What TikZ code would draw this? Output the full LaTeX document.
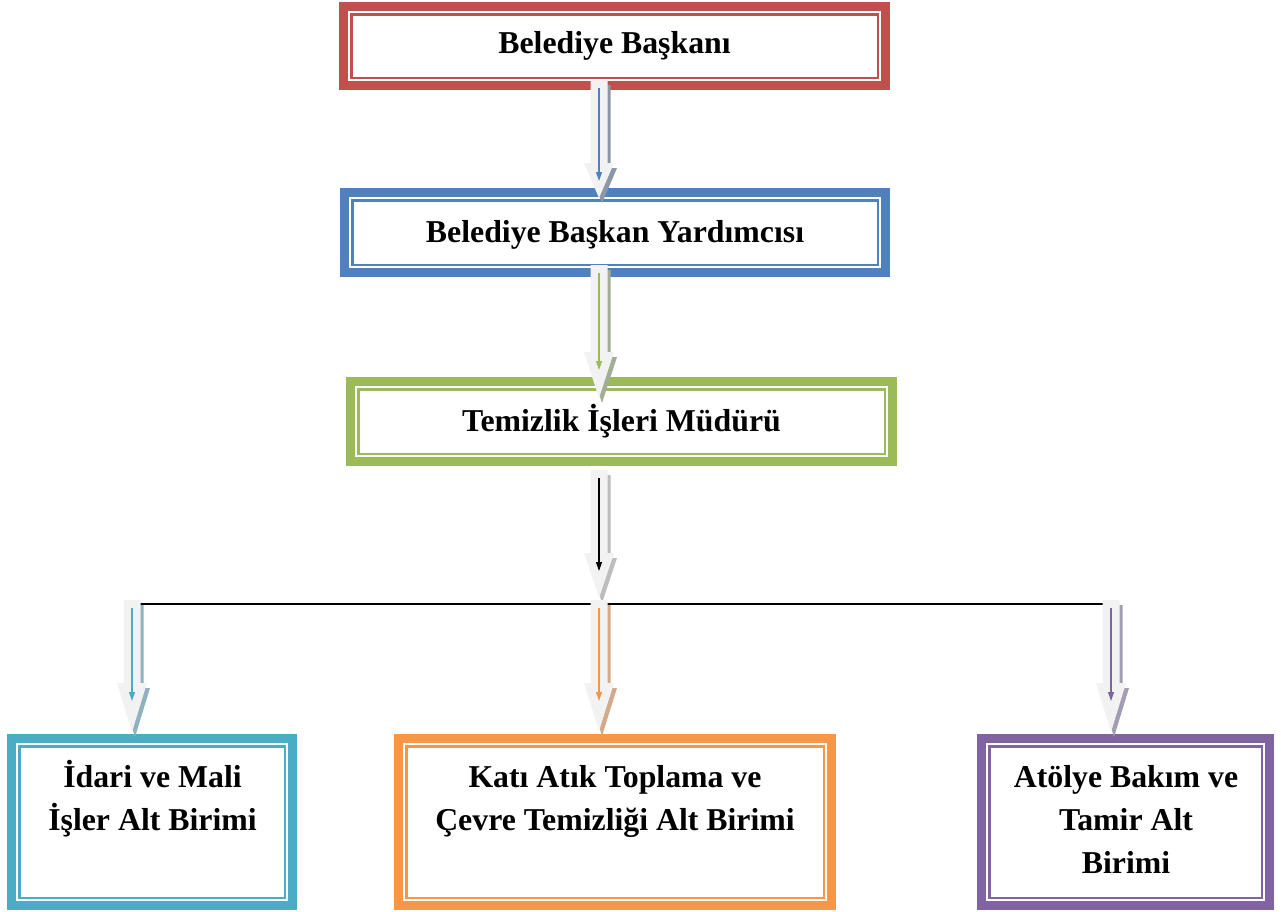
\documentclass[tikz,border=0pt]{standalone}
\usepackage{fontspec}
\setmainfont{Liberation Serif}
\usetikzlibrary{arrows.meta,calc}

\definecolor{cRed}{HTML}{C0504D}
\definecolor{cBlue}{HTML}{4F81BD}
\definecolor{cGreen}{HTML}{9BBB59}
\definecolor{cCyan}{HTML}{4BACC6}
\definecolor{cOrange}{HTML}{F79646}
\definecolor{cPurple}{HTML}{8064A2}
\definecolor{arrowFill}{HTML}{F2F2F2}
\definecolor{shBlue}{HTML}{8B97A8}
\definecolor{shGreen}{HTML}{A3AC94}
\definecolor{shGray}{HTML}{BDBDBD}
\definecolor{shCyan}{HTML}{8FB2BF}
\definecolor{shOrange}{HTML}{D3A98A}
\definecolor{shPurple}{HTML}{A39DB3}

\tikzset{
  % thick outer band with a thin inner rule
  orgframe/.style={draw=#1, line width=9pt, fill=white, inner sep=0pt,
    path picture={\draw[#1, line width=2.5pt]
      ([shift={(7.75pt,-7.75pt)}]path picture bounding box.north west) rectangle
      ([shift={(-7.75pt,7.75pt)}]path picture bounding box.south east);}},
  lbl/.style={font=\fontsize{31.8}{43}\selectfont\bfseries, align=center,
    inner sep=0pt, anchor=base},
}

% block arrow: #1 top, #2 tip, #3 head length, #4 rule colour, #5 shadow colour
\newcommand\blockarrow[5]{%
  \fill[#5] let \p1=(#1), \p2=(#2) in
    (\x1-5.5pt,\y1-5pt) -- (\x1+11.5pt,\y1-5pt) -- (\x1+11.5pt,\y2+#3-5pt)
    -- (\x1+18pt,\y2+#3-5pt) -- (\x2+3pt,\y2-5pt) -- (\x1-12pt,\y2+#3-5pt)
    -- (\x1-5.5pt,\y2+#3-5pt) -- cycle;
  \fill[arrowFill] let \p1=(#1), \p2=(#2) in
    (\x1-8.5pt,\y1) -- (\x1+8.5pt,\y1) -- (\x1+8.5pt,\y2+#3) -- (\x1+15pt,\y2+#3)
    -- (\x2,\y2) -- (\x1-15pt,\y2+#3) -- (\x1-8.5pt,\y2+#3) -- cycle;
  \draw[#4, line width=1.2pt, -{Triangle[width=6pt,length=9pt]}] let \p1=(#1), \p2=(#2) in
    (\x1,\y1-8pt) -- (\x1,\y2+#3-18pt);
}

\begin{document}
\begin{tikzpicture}[x=1pt,y=-1pt]
\useasboundingbox (0,0) rectangle (1281,911);

% boxes
\node[orgframe=cRed,    minimum width=542pt, minimum height=79pt]  (b1) at (614.5,46) {};
\node[orgframe=cBlue,   minimum width=541pt, minimum height=80pt]  (b2) at (615,232.5) {};
\node[orgframe=cGreen,  minimum width=542pt, minimum height=80pt]  (b3) at (621.5,421.5) {};
\node[orgframe=cCyan,   minimum width=281pt, minimum height=167pt] (b4) at (152,822) {};
\node[orgframe=cOrange, minimum width=433pt, minimum height=167pt] (b5) at (615,822) {};
\node[orgframe=cPurple, minimum width=288pt, minimum height=167pt] (b6) at (1125.5,822) {};

% labels (anchored on the baseline of the last line)
\node[lbl] (t1) at (614.5,53) {Belediye Başkanı};
\node[lbl] (t2) at (615,242) {Belediye Başkan Yardımcısı};
\node[lbl] (t3) at (621.5,431) {Temizlik İşleri Müdürü};
\node[lbl] (t4) at (152.5,830) {İdari ve Mali\\İşler Alt Birimi};
\node[lbl] (t5) at (615,830) {Katı Atık Toplama ve\\Çevre Temizliği Alt Birimi};
\node[lbl] (t6) at (1126,873) {Atölye Bakım ve\\Tamir Alt\\Birimi};

% arrow ends
\coordinate (a1s) at (599,80);   \coordinate (a1e) at (599,198);
\coordinate (a2s) at (599,265);  \coordinate (a2e) at (599,398);
\coordinate (a3s) at (599,470);  \coordinate (a3e) at (599,598);
\coordinate (a4s) at (132,600);  \coordinate (a4e) at (132,732);
\coordinate (a5s) at (599,600);  \coordinate (a5e) at (599,731);
\coordinate (a6s) at (1111,600); \coordinate (a6e) at (1111,732);
\coordinate (busL) at (132,604); \coordinate (busR) at (1111,604);

% distribution bar
\draw[black, line width=2pt] (busL) -- (busR);

\blockarrow{a1s}{a1e}{35pt}{cBlue}{shBlue}
\blockarrow{a2s}{a2e}{46pt}{cGreen}{shGreen}
\blockarrow{a3s}{a3e}{45pt}{black}{shGray}
\blockarrow{a4s}{a4e}{49pt}{cCyan}{shCyan}
\blockarrow{a5s}{a5e}{48pt}{cOrange}{shOrange}
\blockarrow{a6s}{a6e}{49pt}{cPurple}{shPurple}
\end{tikzpicture}
\end{document}
